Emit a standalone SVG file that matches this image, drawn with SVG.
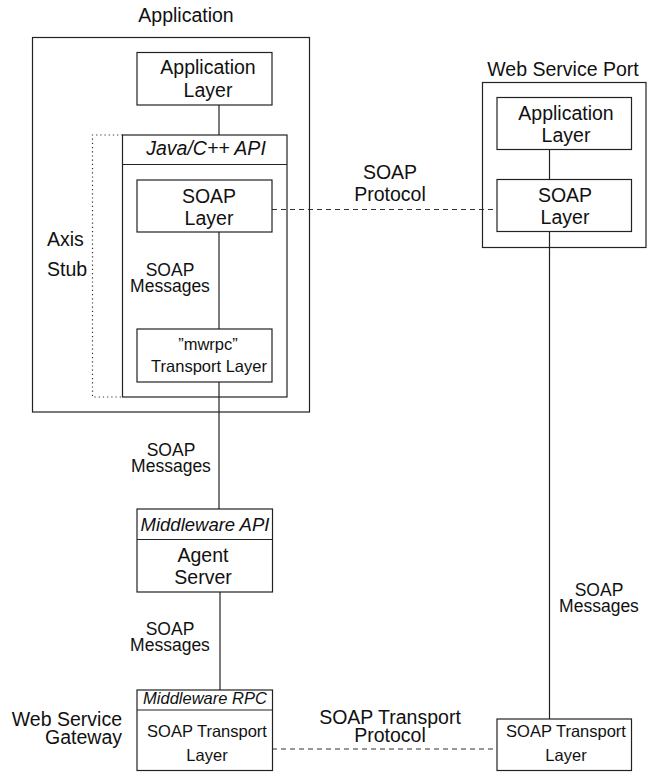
<svg xmlns="http://www.w3.org/2000/svg" width="657" height="773" viewBox="0 0 657 773">
  <style>
    .box { fill: none; stroke: #222; stroke-width: 1.2; }
    .ln { fill: none; stroke: #222; stroke-width: 1.2; }
    .dash { fill: none; stroke: #333; stroke-width: 1.2; stroke-dasharray: 5 4; }
    .dot { fill: none; stroke: #333; stroke-width: 1.2; stroke-dasharray: 1.2 3; }
    text { font-family: "Liberation Sans", Arial, Helvetica, sans-serif; fill: #111; }
    .t { font-size: 19.5px; text-anchor: middle; }
    .s { font-size: 16.5px; text-anchor: middle; }
    .m { font-size: 17.5px; text-anchor: middle; }
    .i { font-style: italic; }
  </style>
  <rect width="657" height="773" fill="#fff"/>

  <!-- connectors and their labels -->
  <g id="connectors">
    <line class="ln" x1="219" y1="105" x2="219" y2="135"/>
    <line class="ln" x1="219" y1="232" x2="219" y2="329"/>
    <line class="ln" x1="219" y1="382" x2="219" y2="509"/>
    <line class="ln" x1="220" y1="592" x2="220" y2="690"/>
    <line class="ln" x1="549.5" y1="149.5" x2="549.5" y2="179.5"/>
    <line class="ln" x1="549.5" y1="231.5" x2="549.5" y2="719"/>
    <line class="dash" x1="272" y1="209.5" x2="497" y2="209.5"/>
    <line class="dash" x1="272" y1="749" x2="497" y2="749"/>
    <text class="t" x="390" y="179">SOAP</text>
    <text class="t" x="390" y="201">Protocol</text>
    <text class="m" x="170" y="276">SOAP</text>
    <text class="m" x="170" y="292">Messages</text>
    <text class="m" x="171" y="456">SOAP</text>
    <text class="m" x="171" y="472">Messages</text>
    <text class="m" x="170" y="635">SOAP</text>
    <text class="m" x="170" y="651">Messages</text>
    <text class="m" x="599" y="596">SOAP</text>
    <text class="m" x="599" y="612">Messages</text>
    <text class="t" x="390" y="724">SOAP Transport</text>
    <text class="t" x="390" y="742">Protocol</text>
  </g>

  <!-- Application container -->
  <g id="application">
    <rect class="box" x="32.5" y="37.5" width="277" height="374.5"/>
    <text class="t" x="186" y="22">Application</text>
  </g>

  <g id="app-layer">
    <rect class="box" x="137" y="52.5" width="135" height="52.5"/>
    <text class="t" x="208" y="74">Application</text>
    <text class="t" x="208" y="97">Layer</text>
  </g>

  <!-- Axis stub bracket -->
  <g id="axis-stub">
    <path class="dot" d="M122.5 135 H92.5 V397 H122.5"/>
    <text x="47" y="246" style="font-size:19.5px">Axis</text>
    <text x="47" y="276" style="font-size:19.5px">Stub</text>
  </g>

  <g id="java-api">
    <rect class="box" x="122.5" y="135" width="164.5" height="262"/>
    <line class="ln" x1="122.5" y1="164.5" x2="287" y2="164.5"/>
    <text class="t i" x="206" y="155">Java/C++ API</text>
  </g>

  <g id="soap-layer">
    <rect class="box" x="137" y="180" width="135" height="52"/>
    <text class="t" x="209" y="203">SOAP</text>
    <text class="t" x="209" y="225">Layer</text>
  </g>

  <g id="mwrpc-transport">
    <rect class="box" x="137" y="329" width="135" height="53"/>
    <text class="s" x="208" y="350">”mwrpc”</text>
    <text class="s" x="209" y="372">Transport Layer</text>
  </g>

  <!-- Web service port -->
  <g id="web-service-port">
    <rect class="box" x="482.5" y="82.5" width="163.5" height="165"/>
    <text class="t" x="563" y="76">Web Service Port</text>
  </g>

  <g id="ws-app-layer">
    <rect class="box" x="497" y="97.5" width="134.5" height="52"/>
    <text class="t" x="566" y="120">Application</text>
    <text class="t" x="566" y="142">Layer</text>
  </g>

  <g id="ws-soap-layer">
    <rect class="box" x="497" y="179.5" width="134.5" height="52"/>
    <text class="t" x="565" y="202">SOAP</text>
    <text class="t" x="565" y="224">Layer</text>
  </g>

  <!-- Agent server -->
  <g id="agent-server">
    <rect class="box" x="137" y="509" width="135.5" height="83"/>
    <line class="ln" x1="137" y1="539.5" x2="272.5" y2="539.5"/>
    <text class="i" x="205" y="531" style="font-size:18.5px;text-anchor:middle">Middleware API</text>
    <text class="t" x="203" y="562">Agent</text>
    <text class="t" x="203" y="584">Server</text>
  </g>

  <!-- Gateway -->
  <g id="gateway">
    <rect class="box" x="137" y="690" width="135.5" height="80.5"/>
    <line class="ln" x1="137" y1="710" x2="272.5" y2="710"/>
    <text class="s i" x="205" y="704">Middleware RPC</text>
    <text class="s" x="207" y="737">SOAP Transport</text>
    <text class="s" x="207" y="761">Layer</text>
    <text x="122" y="726" style="font-size:19.5px;text-anchor:end">Web Service</text>
    <text x="122" y="744" style="font-size:19.5px;text-anchor:end">Gateway</text>
  </g>

  <g id="ws-transport">
    <rect class="box" x="497" y="719" width="134.5" height="51.5"/>
    <text class="s" x="566" y="737">SOAP Transport</text>
    <text class="s" x="566" y="761">Layer</text>
  </g>
</svg>
